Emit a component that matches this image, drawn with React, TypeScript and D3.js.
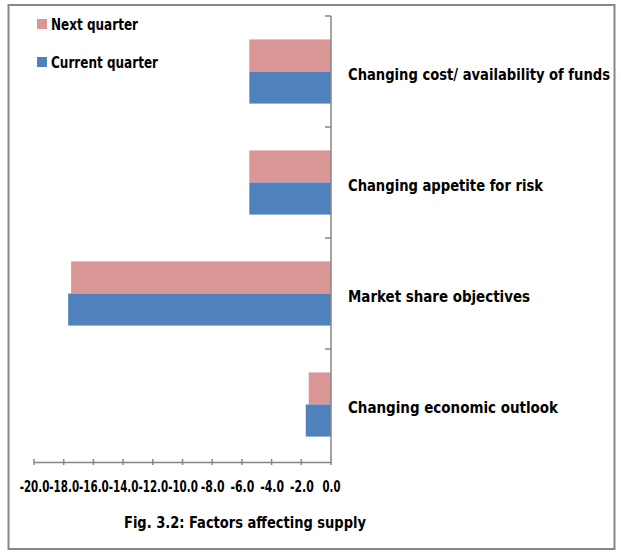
import React, { useEffect, useRef } from "react";
import * as d3 from "d3";

const categories = [
  "Changing cost/ availability of funds",
  "Changing appetite for risk",
  "Market share objectives",
  "Changing economic outlook",
];
const nextQuarter = [-5.5, -5.5, -17.5, -1.5];
const currentQuarter = [-5.5, -5.5, -17.7, -1.7];
const seriesNames = ["Next quarter", "Current quarter"];
const seriesColors = ["#D99694", "#4F81BD"];
const xTicks = [-20, -18, -16, -14, -12, -10, -8, -6, -4, -2, 0];
const title = "Fig. 3.2: Factors affecting supply";

const FONT = "'DejaVu Sans Condensed', 'Liberation Sans', sans-serif";

// squeeze text to a Calibri-like width
const fit = (sel: any, w: number) =>
  sel.attr("textLength", w).attr("lengthAdjust", "spacingAndGlyphs");

const App = () => {
  const svgRef = useRef<SVGSVGElement>(null);

  useEffect(() => {
    const width = 621;
    const height = 555;
    const plot = { left: 34, right: 331, top: 16, bottom: 460 };

    const svg = d3.select(svgRef.current);
    svg.selectAll("*").remove();

    // outer frame
    svg.append("rect")
      .attr("x", 8.5).attr("y", 5).attr("width", 606).attr("height", 544)
      .attr("fill", "#fff").attr("stroke", "#878787").attr("stroke-width", 2);

    const x = d3.scaleLinear().domain([-20, 0]).range([plot.left, plot.right]);
    const y = d3.scaleBand().domain(categories).range([plot.top, plot.bottom]);
    const yInner = d3.scaleBand()
      .domain(seriesNames)
      .range([0, y.bandwidth()])
      .paddingInner(0)
      .paddingOuter(0.73);

    const rows = categories.map((c, i) => ({
      cat: c,
      values: [nextQuarter[i], currentQuarter[i]],
    }));

    const g = svg.append("g");
    rows.forEach((r) => {
      r.values.forEach((v, j) => {
        g.append("rect")
          .attr("x", x(v))
          .attr("y", (y(r.cat) as number) + (yInner(seriesNames[j]) as number))
          .attr("width", x(0) - x(v))
          .attr("height", yInner.bandwidth())
          .attr("fill", seriesColors[j]);
      });
    });

    // vertical category axis at x = 0
    const axisColor = "#868686";
    svg.append("line")
      .attr("x1", x(0)).attr("x2", x(0))
      .attr("y1", plot.top).attr("y2", plot.bottom)
      .attr("stroke", axisColor).attr("stroke-width", 1.5);
    const catBounds = [plot.top, ...categories.slice(1).map((c) => y(c) as number)];
    catBounds.forEach((b) => {
      svg.append("line")
        .attr("x1", x(0) - 6).attr("x2", x(0))
        .attr("y1", b).attr("y2", b)
        .attr("stroke", axisColor).attr("stroke-width", 1.5);
    });

    // category labels
    const labelWidths = [262, 195, 182, 210];
    categories.forEach((c, i) => {
      const t = svg.append("text")
        .attr("x", 348)
        .attr("y", (y(c) as number) + y.bandwidth() / 2 + 4)
        .attr("dominant-baseline", "middle")
        .attr("font-family", FONT)
        .attr("font-weight", "bold")
        .attr("font-size", 16)
        .attr("fill", "#000")
        .text(c);
      fit(t, labelWidths[i]);
    });

    // x axis
    const xAxis = d3.axisBottom(x)
      .tickValues(xTicks)
      .tickSize(0)
      .tickFormat((d) => (d as number).toFixed(1));
    const ax = svg.append("g")
      .attr("transform", `translate(0,${plot.bottom + 2})`)
      .call(xAxis);
    ax.select(".domain").attr("stroke", axisColor).attr("stroke-width", 1.5);
    ax.selectAll(".tick line").remove();
    xTicks.forEach((t) => {
      ax.append("line")
        .attr("x1", x(t)).attr("x2", x(t))
        .attr("y1", -3).attr("y2", 3)
        .attr("stroke", axisColor).attr("stroke-width", 1.5);
    });
    ax.selectAll(".tick text")
      .attr("y", 25)
      .attr("dy", "0.35em")
      .attr("font-family", FONT)
      .attr("font-weight", "bold")
      .attr("font-size", 15)
      .attr("fill", "#000")
      .each(function (d: any) {
        const s = (d as number).toFixed(1);
        fit(d3.select(this), s.length * 5.95);
      });

    // title
    const tt = svg.append("text")
      .attr("x", 124).attr("y", 523)
      .attr("dominant-baseline", "middle")
      .attr("font-family", FONT)
      .attr("font-weight", "bold")
      .attr("font-size", 16)
      .text(title);
    fit(tt, 242);

    // legend
    const legendWidths = [87, 107];
    seriesNames.forEach((s, i) => {
      const ly = 24 + i * 38;
      svg.append("rect")
        .attr("x", 37).attr("y", ly - 5).attr("width", 10).attr("height", 10)
        .attr("fill", seriesColors[i]);
      const lt = svg.append("text")
        .attr("x", 51).attr("y", ly + 1)
        .attr("dominant-baseline", "middle")
        .attr("font-family", FONT)
        .attr("font-weight", "bold")
        .attr("font-size", 15.5)
        .text(s);
      fit(lt, legendWidths[i]);
    });

    svg.attr("width", width).attr("height", height);
  }, []);

  return (
    <svg
      ref={svgRef}
      style={{ position: "absolute", left: 0, top: 0, display: "block" }}
    />
  );
};

export default App;
